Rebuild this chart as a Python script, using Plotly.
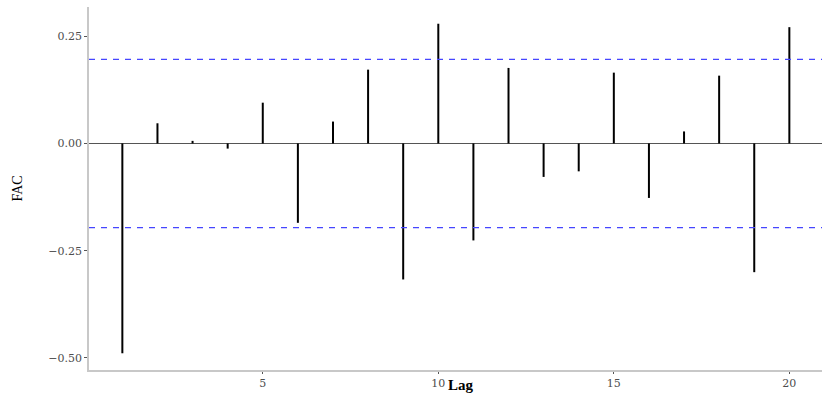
import plotly.graph_objects as go

lags = list(range(1, 21))
acf = [-0.489, 0.047, 0.006, -0.012, 0.095, -0.185, 0.051, 0.172, -0.317, 0.279,
       -0.226, 0.176, -0.078, -0.065, 0.165, -0.127, 0.028, 0.158, -0.300, 0.271]
ci = 0.196
x_ticks = [5, 10, 15, 20]
y_ticks = [-0.50, -0.25, 0.00, 0.25]
y_tick_text = ["\u22120.50", "\u22120.25", "0.00", "0.25"]

xs, ys = [], []
for l, v in zip(lags, acf):
    xs += [l, l, None]
    ys += [0, v, None]

fig = go.Figure()
fig.add_trace(go.Scatter(x=xs, y=ys, mode="lines",
                         line=dict(color="black", width=2), showlegend=False,
                         hoverinfo="skip"))
for c in (ci, -ci):
    fig.add_shape(type="line", xref="paper", x0=0, x1=1, yref="y", y0=c, y1=c,
                  line=dict(color="rgb(70,70,255)", width=1.2, dash="6px,6px"))

tick_font = "DejaVu Serif, Liberation Serif, serif"
title_font = "Liberation Serif, Times New Roman, serif"
fig.update_layout(
    width=822, height=395,
    margin=dict(l=89, r=0, t=7, b=25),
    paper_bgcolor="white", plot_bgcolor="white",
    font=dict(family=tick_font, color="#4d4d4d", size=11),
    xaxis=dict(range=[0.05, 20.93], tickvals=x_ticks, showgrid=False,
               zeroline=False, showline=True, linecolor="#c8c8c8", linewidth=1.5,
               ticks="outside", ticklen=2, tickcolor="#555555", tickwidth=1,
               tickfont=dict(family=tick_font, size=11, color="#4d4d4d")),
    yaxis=dict(range=[-0.528, 0.318], tickvals=y_ticks, ticktext=y_tick_text,
               showgrid=False, zeroline=True, zerolinecolor="#555555",
               zerolinewidth=1.2, showline=True, linecolor="#c8c8c8",
               linewidth=1.5, ticks="outside", ticklen=3, tickcolor="#555555",
               tickwidth=1,
               tickfont=dict(family=tick_font, size=11, color="#4d4d4d")),
)
fig.add_annotation(text="<b>Lag</b>", xref="paper", yref="paper", x=0.5, y=0,
                   yshift=-25, xshift=5, yanchor="bottom", showarrow=False,
                   font=dict(family=title_font, size=15, color="black"))
fig.add_annotation(text="FAC", xref="paper", yref="paper", x=0, y=0.5,
                   xshift=-72, xanchor="center", textangle=-90, showarrow=False,
                   font=dict(family=title_font, size=14, color="black"))

fig.write_html("out.html")
